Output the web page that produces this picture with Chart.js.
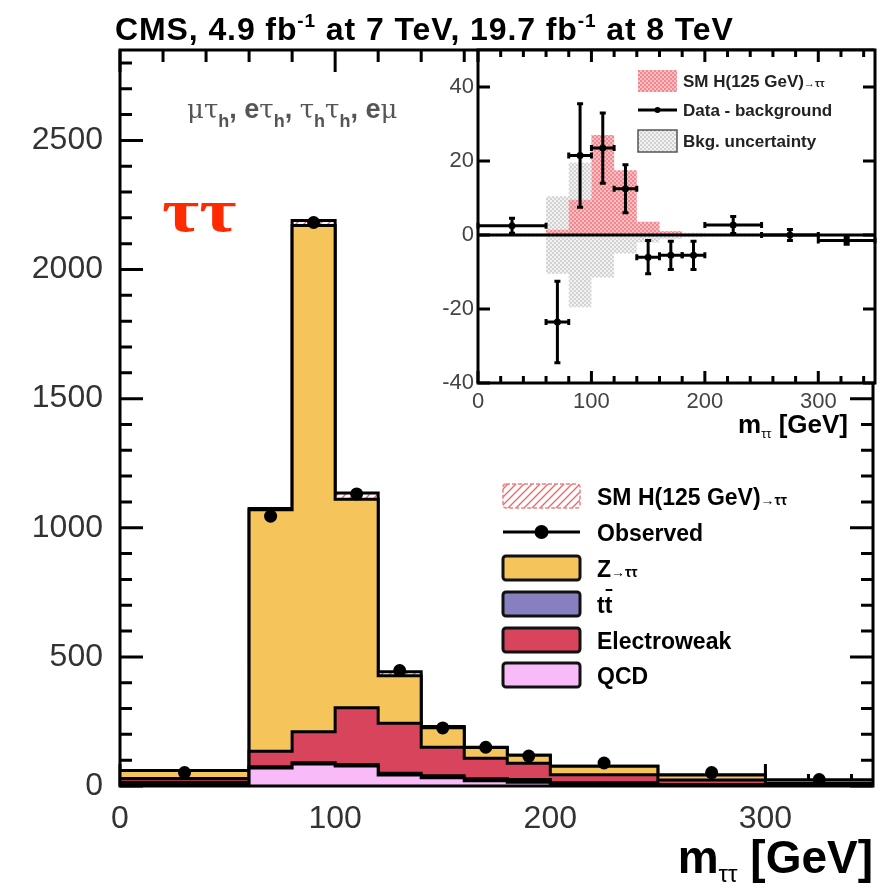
<!DOCTYPE html>
<html>
<head>
<meta charset="utf-8">
<script src="https://cdn.jsdelivr.net/npm/chart.js@4.4.1/dist/chart.umd.min.js"></script>
<style>
  html, body { margin: 0; padding: 0; background: #fff; }
  #wrap { position: relative; width: 882px; height: 892px; }
  #wrap canvas { position: absolute; left: 0; top: 0; }
</style>
</head>
<body>
<div id="wrap">
  <canvas id="main" width="882" height="892"></canvas>
  <canvas id="inset" width="882" height="892"></canvas>
</div>
<script>
// bins of m_tautau (GeV)
const binEdges = [0, 60, 80, 100, 120, 140, 160, 180, 200, 250, 300, 350];

// main plot, events per bin
const qcd      = [5, 70, 85, 77, 43, 32, 20, 15, 3, 1, 0.5];
const ttbar    = [10, 5, 5, 6, 6, 8, 8, 10, 10, 5, 2];
const ewk      = [14, 60, 120, 220, 194, 110, 79, 63, 31, 17, 7.5];
const ztt      = [31, 935, 1960, 807, 184, 76, 42, 31, 32, 20, 13];
const higgs    = [0, 5, 20, 25, 15, 4, 1, 0.5, 0, 0, 0];
const observed = [52, 1045, 2182, 1131, 447, 225, 150, 116, 89, 52, 25];

const xTicks = [0, 100, 200, 300];
const yTicks = [0, 500, 1000, 1500, 2000, 2500];

// inset: data - background
const insetDiff    = [2.5, -23.5, 21.5, 23.5, 12.5, -6, -5.5, -5.5, 2.7, 0, -1.5];
const insetDiffErr = [2, 11, 14, 9.5, 6.5, 4.5, 3.8, 3.8, 2.3, 1.5, 1];
const insetHiggs   = [0, 1.4, 9.5, 27, 17.5, 3.6, 1, 0.3, 0, 0, 0];
const insetBkgUnc  = [0.4, 10.5, 19.5, 11.5, 5, 2, 1, 0.6, 0.4, 0.3, 0.3];
const insetXTicks = [0, 100, 200, 300];
const insetYTicks = [-40, -20, 0, 20, 40];

const FONT = '"Liberation Sans", Arial, Helvetica, sans-serif';
const C_Z = '#f5c45a', C_TT = '#8780c0', C_EWK = '#d8445c', C_QCD = '#f8baf8';

const binCenters = binEdges.slice(0, -1).map((lo, i) => (lo + binEdges[i + 1]) / 2);

function steps(vals) {
  const pts = vals.map((v, i) => ({ x: binEdges[i], y: v }));
  pts.push({ x: binEdges[binEdges.length - 1], y: vals[vals.length - 1] });
  return pts;
}
function addArr(a, b) { return a.map((v, i) => v + b[i]); }

function hatch(kind) {
  const c = document.createElement('canvas');
  const g = c.getContext('2d');
  if (kind === 'diag') {
    c.width = 8; c.height = 8;
    g.fillStyle = '#fff'; g.fillRect(0, 0, 8, 8);
    g.strokeStyle = '#f26060'; g.lineWidth = 1.3;
    g.beginPath();
    g.moveTo(0, 8); g.lineTo(8, 0);
    g.moveTo(-2, 2); g.lineTo(2, -2);
    g.moveTo(6, 10); g.lineTo(10, 6);
    g.stroke();
  } else {
    c.width = 4; c.height = 4;
    g.fillStyle = '#fff'; g.fillRect(0, 0, 4, 4);
    g.fillStyle = kind === 'red' ? '#f4868f' : '#d2d2d2';
    g.fillRect(0, 0, 2, 2); g.fillRect(2, 2, 2, 2);
    g.fillStyle = kind === 'red' ? '#f9c0c4' : '#f2f2f2';
    g.fillRect(2, 0, 2, 2); g.fillRect(0, 2, 2, 2);
  }
  return g.createPattern(c, 'repeat');
}

// draw a run of text pieces: {t, f (font), dy, c}
function rich(ctx, x, y, parts, align) {
  let w = 0;
  parts.forEach(p => { ctx.font = p.f; w += ctx.measureText(p.t).width; });
  let cx = align === 'right' ? x - w : x;
  ctx.textAlign = 'left';
  ctx.textBaseline = 'alphabetic';
  parts.forEach(p => {
    ctx.font = p.f;
    ctx.fillStyle = p.c || '#000';
    ctx.fillText(p.t, cx, y + (p.dy || 0));
    cx += ctx.measureText(p.t).width;
  });
}

function inwardTicks(ctx, area, xs, ys, xMajor, xMinor, yMajor, yMinor, xStep, yStep, lens) {
  ctx.save();
  ctx.strokeStyle = '#000';
  ctx.lineWidth = 3;
  ctx.beginPath();
  for (let v = xs.min; v <= xs.max + 1e-9; v += xStep) {
    const p = xs.getPixelForValue(v);
    const len = (v % xMajor === 0) ? lens[0] : lens[1];
    ctx.moveTo(p, area.bottom); ctx.lineTo(p, area.bottom - len);
    ctx.moveTo(p, area.top); ctx.lineTo(p, area.top + len);
  }
  for (let v = ys.min; v <= ys.max + 1e-9; v += yStep) {
    const p = ys.getPixelForValue(v);
    const len = (Math.abs(v % yMajor) === 0) ? lens[2] : lens[3];
    ctx.moveTo(area.left, p); ctx.lineTo(area.left + len, p);
    ctx.moveTo(area.right, p); ctx.lineTo(area.right - len, p);
  }
  ctx.stroke();
  ctx.restore();
}

// ---------- main chart ----------
const cQcd = qcd;
const cTt = addArr(cQcd, ttbar);
const cEwk = addArr(cTt, ewk);
const cZ = addArr(cEwk, ztt);
const cH = addArr(cZ, higgs);

const stepStyle = { stepped: true, pointRadius: 0, borderColor: '#000', borderWidth: 3, tension: 0 };

const mainPlugin = {
  id: 'mainDecor',
  beforeDatasetsDraw(chart) {
    const { ctx, chartArea: a, scales: { x, y } } = chart;
    inwardTicks(ctx, a, x, y, 100, 20, 500, 100, 20, 100, [22, 12, 23, 12]);
  },
  afterDraw(chart) {
    const { ctx, chartArea: a } = chart;
    ctx.save();
    ctx.strokeStyle = '#000';
    ctx.lineWidth = 3;
    ctx.strokeRect(a.left, a.top, a.right - a.left, a.bottom - a.top);

    // title
    const tf = 'bold 32px ' + FONT, sf = 'bold 19px ' + FONT;
    ctx.letterSpacing = '0.9px';
    rich(ctx, 115, 40, [
      { t: 'CMS, 4.9 fb', f: tf }, { t: '-1', f: sf, dy: -13 },
      { t: ' at 7 TeV, 19.7 fb', f: tf }, { t: '-1', f: sf, dy: -13 },
      { t: ' at 8 TeV', f: tf }
    ]);
    ctx.letterSpacing = '0px';

    // x axis title
    rich(ctx, 873, 873, [
      { t: 'm', f: 'bold 46px ' + FONT },
      { t: 'ττ', f: '24px ' + FONT, dy: 9 },
      { t: ' [GeV]', f: 'bold 46px ' + FONT }
    ], 'right');

    // channels
    const g = '26px "DejaVu Serif", serif', b = 'bold 27px ' + FONT, h = 'bold 18px ' + FONT, col = '#555';
    rich(ctx, 187, 118, [
      { t: 'μτ', f: g, c: col }, { t: 'h', f: h, dy: 9, c: col }, { t: ', e', f: b, c: col },
      { t: 'τ', f: g, c: col }, { t: 'h', f: h, dy: 9, c: col }, { t: ', ', f: b, c: col },
      { t: 'τ', f: g, c: col }, { t: 'h', f: h, dy: 9, c: col },
      { t: 'τ', f: g, c: col }, { t: 'h', f: h, dy: 9, c: col }, { t: ', e', f: b, c: col },
      { t: 'μ', f: g, c: col }
    ]);

    // big red label
    ctx.save();
    ctx.translate(162, 231);
    ctx.scale(1.3, 1);
    ctx.font = 'bold 62px "Liberation Serif", "DejaVu Serif", serif';
    ctx.fillStyle = '#ff2a00';
    ctx.textAlign = 'left';
    ctx.fillText('ττ', 0, 0);
    ctx.restore();

    // legend
    const ds = chart.data.datasets;
    const lf = 'bold 23px ' + FONT, ls = 'bold 14px ' + FONT;
    const bx = 503, bw = 77, bh = 24, tx = 597;
    const rows = [
      { y: 496, kind: 'box', fill: ds[4].backgroundColor, border: '#f08080', parts: [{ t: 'SM H(125 GeV)', f: lf }, { t: '→ττ', f: ls }] },
      { y: 532, kind: 'obs', parts: [{ t: 'Observed', f: lf }] },
      { y: 568, kind: 'box', fill: ds[3].backgroundColor, parts: [{ t: 'Z', f: lf }, { t: '→ττ', f: ls }] },
      { y: 604, kind: 'box', fill: ds[1].backgroundColor, parts: [{ t: 'tt', f: lf }] , bar: true },
      { y: 640, kind: 'box', fill: ds[2].backgroundColor, parts: [{ t: 'Electroweak', f: lf }] },
      { y: 675, kind: 'box', fill: ds[0].backgroundColor, parts: [{ t: 'QCD', f: lf }] }
    ];
    rows.forEach(r => {
      if (r.kind === 'box') {
        ctx.beginPath();
        ctx.roundRect(bx, r.y - bh / 2, bw, bh, 3);
        ctx.fillStyle = r.fill;
        ctx.fill();
        if (r.border) {
          ctx.setLineDash([4, 2]);
          ctx.lineWidth = 1.5;
          ctx.strokeStyle = r.border;
        } else {
          ctx.lineWidth = 3;
          ctx.strokeStyle = '#111';
        }
        ctx.stroke();
        ctx.setLineDash([]);
      } else {
        ctx.beginPath();
        ctx.lineWidth = 3;
        ctx.strokeStyle = '#000';
        ctx.moveTo(bx, r.y); ctx.lineTo(bx + bw, r.y);
        ctx.stroke();
        ctx.beginPath();
        ctx.arc(bx + bw / 2, r.y, 7, 0, Math.PI * 2);
        ctx.fillStyle = '#000';
        ctx.fill();
      }
      rich(ctx, tx, r.y + 9, r.parts);
      if (r.bar) {
        ctx.font = lf;
        const tw = ctx.measureText('t').width;
        ctx.fillStyle = '#000';
        ctx.fillRect(tx + tw + 1, r.y - 15, tw - 1, 2);
      }
    });
    ctx.restore();
  }
};

const tickFont = { family: FONT, size: 32 };

new Chart(document.getElementById('main'), {
  type: 'line',
  data: {
    datasets: [
      { label: 'QCD', data: steps(cQcd), fill: 'origin', backgroundColor: C_QCD, ...stepStyle },
      { label: 'tt', data: steps(cTt), fill: '-1', backgroundColor: C_TT, ...stepStyle },
      { label: 'Electroweak', data: steps(cEwk), fill: '-1', backgroundColor: C_EWK, ...stepStyle },
      { label: 'Z→ττ', data: steps(cZ), fill: '-1', backgroundColor: C_Z, ...stepStyle },
      { label: 'SM H(125 GeV)→ττ', data: steps(cH), fill: '-1', backgroundColor: hatch('diag'), ...stepStyle },
      {
        label: 'Observed', type: 'scatter', order: -1,
        data: observed.map((v, i) => ({ x: binCenters[i], y: v })),
        pointRadius: 6.5, pointBackgroundColor: '#000', pointBorderWidth: 0, showLine: false
      }
    ]
  },
  options: {
    responsive: false,
    animation: false,
    events: [],
    layout: { padding: { top: 50, right: 9, left: 0, bottom: 0 } },
    plugins: { legend: { display: false }, tooltip: { enabled: false } },
    scales: {
      x: {
        type: 'linear', min: 0, max: 350,
        grid: { display: false, drawTicks: false }, border: { display: false },
        ticks: { font: tickFont, color: '#333', padding: 14, maxRotation: 0, callback: v => String(v) },
        afterBuildTicks: s => { s.ticks = xTicks.map(v => ({ value: v })); },
        afterFit: s => { s.height = 106; }
      },
      y: {
        type: 'linear', min: 0, max: 2850,
        grid: { display: false, drawTicks: false }, border: { display: false },
        ticks: { font: tickFont, color: '#333', padding: 17, callback: v => String(v) },
        afterBuildTicks: s => { s.ticks = yTicks.map(v => ({ value: v })); },
        afterFit: s => { s.width = 120; }
      }
    }
  },
  plugins: [mainPlugin]
});

// ---------- inset ----------
const insetPlugin = {
  id: 'insetDecor',
  beforeDatasetsDraw(chart) {
    const { ctx, chartArea: a } = chart;
    ctx.save();
    ctx.fillStyle = '#fff';
    ctx.fillRect(a.left, a.top, a.right - a.left, a.bottom - a.top);
    ctx.restore();
  },
  afterDatasetsDraw(chart) {
    const { ctx, chartArea: a, scales: { x, y } } = chart;
    ctx.save();
    // zero line
    ctx.strokeStyle = '#000';
    ctx.lineWidth = 3;
    ctx.beginPath();
    ctx.moveTo(a.left, y.getPixelForValue(0));
    ctx.lineTo(a.right, y.getPixelForValue(0));
    ctx.stroke();
    // error bars
    insetDiff.forEach((v, i) => {
      const x0 = x.getPixelForValue(binEdges[i]), x1 = x.getPixelForValue(binEdges[i + 1]);
      const cx = x.getPixelForValue(binCenters[i]);
      const cy = y.getPixelForValue(v);
      const y0 = y.getPixelForValue(v - insetDiffErr[i]), y1 = y.getPixelForValue(v + insetDiffErr[i]);
      ctx.beginPath();
      ctx.moveTo(x0, cy); ctx.lineTo(x1, cy);
      ctx.moveTo(cx, y0); ctx.lineTo(cx, y1);
      ctx.moveTo(cx - 3, y0); ctx.lineTo(cx + 3, y0);
      ctx.moveTo(cx - 3, y1); ctx.lineTo(cx + 3, y1);
      ctx.moveTo(x0, cy - 3); ctx.lineTo(x0, cy + 3);
      ctx.moveTo(x1, cy - 3); ctx.lineTo(x1, cy + 3);
      ctx.stroke();
    });
    ctx.restore();
  },
  afterDraw(chart) {
    const { ctx, chartArea: a, scales: { x, y } } = chart;
    ctx.save();
    inwardTicks(ctx, a, x, y, 100, 20, 20, 20, 20, 20, [12, 7, 12, 12]);
    ctx.strokeStyle = '#000';
    ctx.lineWidth = 3;
    ctx.strokeRect(a.left, a.top, a.right - a.left, a.bottom - a.top);

    rich(ctx, 848, 433, [
      { t: 'm', f: 'bold 26px ' + FONT },
      { t: 'ττ', f: '13px ' + FONT, dy: 5 },
      { t: ' [GeV]', f: 'bold 26px ' + FONT }
    ], 'right');

    // legend
    const ds = chart.data.datasets;
    const lf = 'bold 17px ' + FONT, ls = 'bold 11px ' + FONT;
    const bx = 638, bw = 39, bh = 22, tx = 683;
    ctx.fillStyle = ds[2].backgroundColor;
    ctx.fillRect(bx, 81 - bh / 2, bw, bh);
    rich(ctx, tx, 87, [{ t: 'SM H(125 GeV)', f: lf, c: '#222' }, { t: '→ττ', f: ls, c: '#222' }]);

    ctx.strokeStyle = '#000'; ctx.lineWidth = 3;
    ctx.beginPath(); ctx.moveTo(bx, 110); ctx.lineTo(bx + bw, 110); ctx.stroke();
    ctx.beginPath(); ctx.arc(bx + bw / 2, 110, 3, 0, Math.PI * 2); ctx.fillStyle = '#000'; ctx.fill();
    rich(ctx, tx, 116, [{ t: 'Data - background', f: lf, c: '#222' }]);

    ctx.fillStyle = ds[0].backgroundColor;
    ctx.fillRect(bx, 141 - bh / 2, bw, bh);
    ctx.strokeStyle = '#555'; ctx.lineWidth = 1.5;
    ctx.strokeRect(bx, 141 - bh / 2, bw, bh);
    rich(ctx, tx, 147, [{ t: 'Bkg. uncertainty', f: lf, c: '#222' }]);
    ctx.restore();
  }
};

const insetTickFont = { family: FONT, size: 22 };

new Chart(document.getElementById('inset'), {
  type: 'line',
  data: {
    datasets: [
      { label: 'unc up', data: steps(insetBkgUnc), fill: '+1', backgroundColor: hatch('grey'), stepped: true, pointRadius: 0, borderWidth: 0 },
      { label: 'unc down', data: steps(insetBkgUnc.map(v => -v)), fill: false, stepped: true, pointRadius: 0, borderWidth: 0 },
      { label: 'SM H(125 GeV)→ττ', data: steps(insetHiggs), fill: 'origin', backgroundColor: hatch('red'), stepped: true, pointRadius: 0, borderWidth: 0, order: -1 },
      {
        label: 'Data - background', type: 'scatter', order: -2,
        data: insetDiff.map((v, i) => ({ x: binCenters[i], y: v })),
        pointRadius: 3.5, pointBackgroundColor: '#000', pointBorderWidth: 0, showLine: false
      }
    ]
  },
  options: {
    responsive: false,
    animation: false,
    events: [],
    layout: { padding: { top: 50, right: 7, left: 430, bottom: 0 } },
    plugins: { legend: { display: false }, tooltip: { enabled: false } },
    scales: {
      x: {
        type: 'linear', min: 0, max: 350,
        grid: { display: false, drawTicks: false }, border: { display: false },
        ticks: { font: insetTickFont, color: '#444', padding: 6, maxRotation: 0 },
        afterBuildTicks: s => { s.ticks = insetXTicks.map(v => ({ value: v })); },
        afterFit: s => { s.height = 892 - 383; }
      },
      y: {
        type: 'linear', min: -40, max: 50,
        grid: { display: false, drawTicks: false }, border: { display: false },
        ticks: { font: insetTickFont, color: '#444', padding: 4 },
        afterBuildTicks: s => { s.ticks = insetYTicks.map(v => ({ value: v })); },
        afterFit: s => { s.width = 48; }
      }
    }
  },
  plugins: [insetPlugin]
});
</script>
</body>
</html>
